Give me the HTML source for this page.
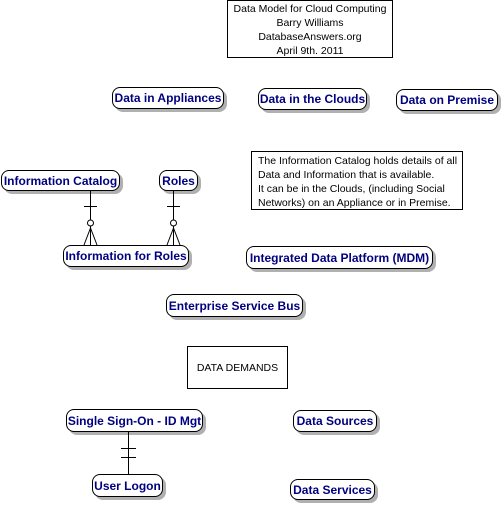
<!DOCTYPE html>
<html><head><meta charset="utf-8"><style>
body{margin:0;width:503px;height:506px;background:#fff;position:relative;overflow:hidden;font-family:"Liberation Sans",Arial,sans-serif}
.e{position:absolute;box-sizing:border-box;border:1px solid #000;border-radius:8px;background:#fff;box-shadow:3px 3px 0 #b0b0b0;color:#000080;font-weight:bold;font-size:12px;display:flex;align-items:center;justify-content:center;white-space:nowrap}
.t{position:absolute;box-sizing:border-box;border:1px solid #000;background:#fff;font-size:10.5px;color:#000;white-space:nowrap}
svg{position:absolute;left:0;top:0}
</style></head><body>
<div class="t" style="left:227px;top:0;width:166px;height:58px;text-align:center;line-height:14px;padding-top:1px">Data Model for Cloud Computing<br>Barry Williams<br>DatabaseAnswers.org<br>April 9th. 2011</div>
<div class="e" style="left:112px;top:87px;width:112px;height:22px">Data in Appliances</div>
<div class="e" style="left:258px;top:88px;width:109px;height:22px">Data in the Clouds</div>
<div class="e" style="left:396px;top:89px;width:102px;height:22px">Data on Premise</div>
<div class="t" style="left:251px;top:151px;width:212px;height:59px;line-height:14px;padding:2px 0 0 6px">The Information Catalog holds details of all<br>Data and Information that is available.<br>It can be in the Clouds, (including Social<br>Networks) on an Appliance or in Premise.</div>
<div class="e" style="left:1px;top:170px;width:119px;height:21px">Information Catalog</div>
<div class="e" style="left:159px;top:170px;width:39px;height:21px">Roles</div>
<div class="e" style="left:63px;top:245px;width:126px;height:22px">Information for Roles</div>
<div class="e" style="left:246px;top:246px;width:187px;height:23px">Integrated Data Platform (MDM)</div>
<div class="e" style="left:166px;top:294px;width:137px;height:23px">Enterprise Service Bus</div>
<div class="t" style="left:187px;top:346px;width:101px;height:43px;display:flex;align-items:center;justify-content:center">DATA DEMANDS</div>
<div class="e" style="left:66px;top:409px;width:137px;height:23px">Single Sign-On - ID Mgt</div>
<div class="e" style="left:293px;top:410px;width:84px;height:22px">Data Sources</div>
<div class="e" style="left:92px;top:474px;width:71px;height:23px">User Logon</div>
<div class="e" style="left:290px;top:479px;width:85px;height:21px">Data Services</div>
<svg width="503" height="506" viewBox="0 0 503 506" fill="none" stroke="#000" stroke-width="1">
<g transform="translate(90,0)">
<line x1="0.5" y1="191" x2="0.5" y2="245"/><line x1="-6" y1="206.5" x2="7" y2="206.5"/>
<circle cx="0.5" cy="223" r="3" fill="#fff"/>
<line x1="0.5" y1="228" x2="-6" y2="245"/><line x1="0.5" y1="228" x2="7" y2="245"/>
</g>
<g transform="translate(173,0)">
<line x1="0.5" y1="191" x2="0.5" y2="245"/><line x1="-6" y1="206.5" x2="7" y2="206.5"/>
<circle cx="0.5" cy="223" r="3" fill="#fff"/>
<line x1="0.5" y1="228" x2="-6" y2="245"/><line x1="0.5" y1="228" x2="7" y2="245"/>
</g>
<line x1="128.5" y1="432" x2="128.5" y2="474"/>
<line x1="121" y1="448.5" x2="136" y2="448.5"/><line x1="121" y1="457.5" x2="136" y2="457.5"/>
</svg>
</body></html>
